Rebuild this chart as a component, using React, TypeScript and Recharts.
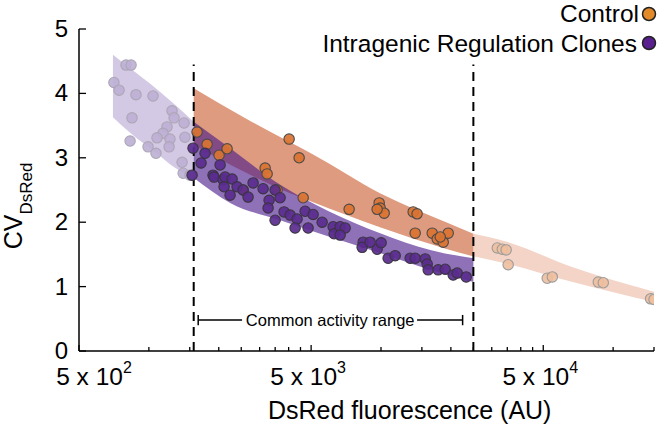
import React from 'react';
import { ComposedChart, Area, Scatter, XAxis, YAxis, ReferenceLine, ReferenceDot } from 'recharts';

const FONT = '"Liberation Sans", Arial, Helvetica, sans-serif';

// ---- x-axis ticks ----
const xTicks = [500, 1000, 1500, 2000, 2500, 3000, 3500, 4000, 4500, 5000, 10000, 15000, 20000, 25000, 30000, 35000, 40000, 45000, 50000, 100000, 150000];
const xMajorTicks = [500, 5000, 50000];
const xMajorExp = ['2', '3', '4'];
const yTicks = [0, 1, 2, 3, 4, 5];

// ---- bands ----
const purpleFadedX = [700, 830, 1080, 1300, 1560];
const purpleFadedLow = [3.63, 3.39, 3.07, 2.84, 2.69];
const purpleFadedHigh = [4.6, 4.39, 4.07, 3.82, 3.56];

const purpleX = [1560, 2240, 3680, 6040, 9920, 16300, 25000];
const purpleLow = [2.69, 2.3, 2.03, 1.77, 1.52, 1.26, 1.07];
const purpleHigh = [3.56, 3.15, 2.58, 2.16, 1.83, 1.57, 1.44];

const controlX = [1560, 2650, 4060, 5100, 9900, 19300, 25000];
const controlLow = [3.2, 2.76, 2.45, 2.31, 1.92, 1.58, 1.47];
const controlHigh = [4.08, 3.6, 3.24, 3.05, 2.45, 1.99, 1.82];

const controlFadedX = [25000, 34500, 67000, 150000];
const controlFadedLow = [1.47, 1.36, 1.07, 0.76];
const controlFadedHigh = [1.82, 1.7, 1.3, 0.92];

// ---- points ----
const purpleFadedPtX = [797, 838, 707, 744, 880, 1042, 1258, 1284, 846, 1418, 1197, 1151, 1084, 1233, 1430, 830, 992, 1073, 1222, 1390, 1405, 1504];
const purpleFadedPtY = [4.44, 4.44, 4.17, 4.05, 3.98, 3.96, 3.73, 3.62, 3.62, 3.54, 3.48, 3.38, 3.31, 3.29, 3.32, 3.26, 3.17, 3.07, 3.17, 2.93, 2.76, 2.73];

const purplePtX = [1550, 1535, 1678, 1746, 1890, 1909, 2027, 2088, 2130, 2283, 2109, 2238, 2399, 2546, 2675, 2812, 3105, 3296, 3498, 3675, 3263, 3498, 3824, 4060, 4350, 4265, 4712, 4853, 5100, 5577, 6218, 6281, 6669, 7008, 6669, 8377, 8294, 8979, 9624, 10014, 10733, 11508, 13358, 14035, 15500, 15811, 15969, 17633, 18898, 20468, 21296, 23286];
const purplePtY = [3.15, 2.73, 2.92, 3.07, 2.73, 2.7, 2.89, 2.66, 2.7, 2.67, 2.55, 2.42, 2.55, 2.5, 2.39, 2.61, 2.52, 2.34, 2.5, 2.38, 2.22, 2.03, 2.16, 2.11, 2.05, 1.91, 2.17, 1.91, 2.12, 2.0, 1.93, 1.82, 1.93, 1.91, 1.8, 1.69, 1.61, 1.69, 1.58, 1.68, 1.44, 1.48, 1.44, 1.44, 1.43, 1.35, 1.26, 1.26, 1.27, 1.18, 1.21, 1.15];

const controlPtX = [1613, 1781, 2006, 2172, 3168, 3231, 4020, 4439, 2546, 3568, 4620, 7290, 9820, 9920, 10320, 9624, 13760, 14300, 14035, 16620, 17465, 18535, 19475, 18000];
const controlPtY = [3.4, 3.21, 3.04, 3.14, 2.84, 2.75, 3.29, 3.0, 2.5, 2.5, 2.38, 2.2, 2.3, 2.22, 2.14, 2.2, 2.16, 2.13, 1.83, 1.83, 1.74, 1.69, 1.83, 1.77];

const controlFadedPtX = [31700, 33300, 34600, 35300, 52000, 54700, 86300, 90700, 145000, 150000];
const controlFadedPtY = [1.6, 1.58, 1.57, 1.34, 1.13, 1.15, 1.07, 1.06, 0.81, 0.8];

// ---- reference positions ----
const rangeStart = 1560;
const rangeEnd = 25000;
const dashTop = 4.45;
const bracketY = 0.48;
const bracketLeft = 1631;
const bracketRight = 22470;
const bracketTextLeft = 2520;
const bracketTextRight = 14300;
const bracketTextX = 6040;

const band = (xs: number[], lo: number[], hi: number[]) => xs.map((x, i) => ({ x, range: [lo[i], hi[i]] }));
const pts = (xs: number[], ys: number[]) => xs.map((x, i) => ({ x, y: ys[i] }));

const purpleFadedBand = band(purpleFadedX, purpleFadedLow, purpleFadedHigh);
const purpleBand = band(purpleX, purpleLow, purpleHigh);
const controlBand = band(controlX, controlLow, controlHigh);
const controlFadedBand = band(controlFadedX, controlFadedLow, controlFadedHigh);

const circleShape = (fill: string, stroke: string, opacity = 1) => (p: any) => (
  <circle cx={p.cx} cy={p.cy} r={5.2} fill={fill} fillOpacity={opacity} stroke={stroke} strokeWidth={1.1} />
);

const XTick = (props: any) => {
  const { x, y, payload } = props;
  const v = payload.value;
  const mi = xMajorTicks.indexOf(v);
  const major = mi >= 0;
  const dx = v === 500 ? 15 : -3;
  return (
    <g>
      <line x1={x} x2={x} y1={y} y2={y - (major ? 6 : 4)} stroke="#000" strokeWidth={1.3} />
      {major && (
        <text x={x + dx} y={y + 33.5} textAnchor="middle" fontSize={24.5} fontFamily={FONT} fill="#000">
          5 x 10<tspan dy={-12} fontSize={16}>{xMajorExp[mi]}</tspan>
        </text>
      )}
    </g>
  );
};

const YTick = (props: any) => {
  const { x, y, payload } = props;
  return (
    <g>
      <line x1={x} x2={x + 7} y1={y} y2={y} stroke="#000" strokeWidth={1.3} />
      <text x={x - 11} y={y + 8} textAnchor="end" fontSize={24} fontFamily={FONT} fill="#000">
        {payload.value}
      </text>
    </g>
  );
};

export default function App() {
  return (
    <div style={{ position: 'absolute', left: 0, top: 0, width: 666, height: 428, background: '#fff' }}>
      <ComposedChart width={666} height={428} margin={{ top: 29, right: 12, bottom: 0, left: 0 }}>
        <XAxis
          dataKey="x"
          type="number"
          scale="log"
          domain={[500, 150000]}
          allowDataOverflow
          ticks={xTicks}
          interval={0}
          tick={<XTick />}
          tickSize={0}
          tickMargin={0}
          tickLine={false}
          axisLine={{ stroke: '#000', strokeWidth: 1.5 }}
          height={77}
        />
        <YAxis
          type="number"
          domain={[0, 5]}
          ticks={yTicks}
          interval={0}
          tick={<YTick />}
          tickSize={0}
          tickMargin={0}
          tickLine={false}
          axisLine={{ stroke: '#000', strokeWidth: 1.5 }}
          width={79}
        />
        <Area data={purpleFadedBand} dataKey="range" type="monotone" stroke="none" fill="#D4C9E4" fillOpacity={1} isAnimationActive={false} dot={false} activeDot={false} />
        <Area data={controlFadedBand} dataKey="range" type="monotone" stroke="none" fill="#F3D4C7" fillOpacity={1} isAnimationActive={false} dot={false} activeDot={false} />
        <Area data={controlBand} dataKey="range" type="monotone" stroke="none" fill="#DE9B7F" fillOpacity={1} isAnimationActive={false} dot={false} activeDot={false} />
        <Scatter data={pts(purpleFadedPtX, purpleFadedPtY)} dataKey="y" isAnimationActive={false} shape={circleShape('#BCAFD4', '#ADA6B6', 0.9)} />
        <Scatter data={pts(controlFadedPtX, controlFadedPtY)} dataKey="y" isAnimationActive={false} shape={circleShape('#EEBF9D', '#9C9C9C', 0.9)} />
        <Scatter data={pts(controlPtX, controlPtY)} dataKey="y" isAnimationActive={false} shape={circleShape('#DA7331', '#4A4A4A', 0.92)} />
        <Area data={purpleBand} dataKey="range" type="monotone" stroke="none" fill="#4B1A8A" fillOpacity={0.62} isAnimationActive={false} dot={false} activeDot={false} />
        <Scatter data={pts(purplePtX, purplePtY)} dataKey="y" isAnimationActive={false} shape={circleShape('#5A2B8E', '#3A3540', 0.92)} />
        <ReferenceLine segment={[{ x: rangeStart, y: 0 }, { x: rangeStart, y: dashTop }]} stroke="#000" strokeWidth={2} strokeDasharray="9 6" ifOverflow="visible" />
        <ReferenceLine segment={[{ x: rangeEnd, y: 0 }, { x: rangeEnd, y: dashTop }]} stroke="#000" strokeWidth={2} strokeDasharray="9 6" ifOverflow="visible" />
        <ReferenceLine segment={[{ x: bracketLeft, y: bracketY }, { x: bracketTextLeft, y: bracketY }]} stroke="#000" strokeWidth={1.5} />
        <ReferenceLine segment={[{ x: bracketTextRight, y: bracketY }, { x: bracketRight, y: bracketY }]} stroke="#000" strokeWidth={1.5} />
        <ReferenceLine segment={[{ x: bracketLeft, y: bracketY - 0.08 }, { x: bracketLeft, y: bracketY + 0.08 }]} stroke="#000" strokeWidth={1.5} />
        <ReferenceLine segment={[{ x: bracketRight, y: bracketY - 0.08 }, { x: bracketRight, y: bracketY + 0.08 }]} stroke="#000" strokeWidth={1.5} />
        <ReferenceDot
          x={bracketTextX}
          y={bracketY}
          r={0}
          shape={(p: any) => (
            <text x={p.cx} y={p.cy + 6} textAnchor="middle" fontSize={16.5} fontFamily={FONT} fill="#000">
              Common activity range
            </text>
          )}
        />
      </ComposedChart>
      <svg width={666} height={428} style={{ position: 'absolute', left: 0, top: 0, pointerEvents: 'none' }}>
        <text x={639} y={22} textAnchor="end" fontSize={24.5} fontFamily={FONT} fill="#000">Control</text>
        <circle cx={649} cy={14} r={6.5} fill="#E2892A" stroke="#222" strokeWidth={1.5} />
        <text x={637} y={51.5} textAnchor="end" fontSize={24.5} fontFamily={FONT} fill="#000">Intragenic Regulation Clones</text>
        <circle cx={649} cy={43} r={6.5} fill="#5A1F8F" stroke="#222" strokeWidth={1.5} />
        <text transform="translate(22,206) rotate(-90)" textAnchor="middle" fontSize={25} fontFamily={FONT} fill="#000">
          CV<tspan fontSize={17} dy={10}>DsRed</tspan>
        </text>
        <text x={268} y={419} textAnchor="start" fontSize={25} fontFamily={FONT} fill="#000">DsRed fluorescence (AU)</text>
      </svg>
    </div>
  );
}
